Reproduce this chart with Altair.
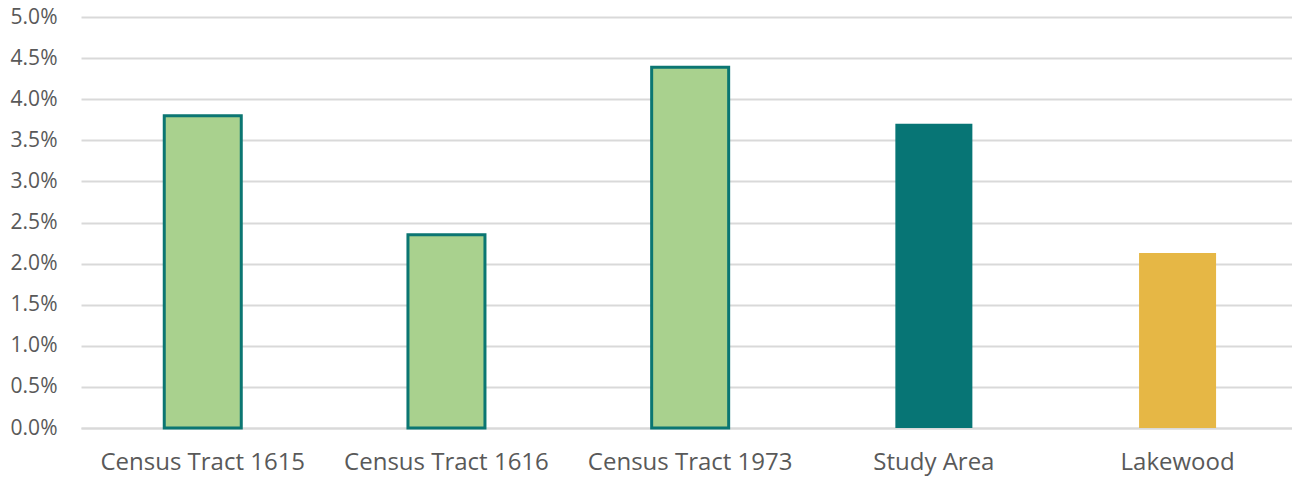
import altair as alt
import pandas as pd

categories = ["Census Tract 1615", "Census Tract 1616", "Census Tract 1973", "Study Area", "Lakewood"]
values = [0.0380, 0.0235, 0.0439, 0.0370, 0.0213]
fills = ["#A9D18E", "#A9D18E", "#A9D18E", "#077575", "#E6B745"]
strokes = ["#0B7672", "#0B7672", "#0B7672", "#077575", "#E6B745"]
stroke_widths = [3, 3, 3, 0, 0]

df = pd.DataFrame({
    "category": categories,
    "value": values,
    "fill": fills,
    "stroke": strokes,
    "sw": stroke_widths,
})

FONT = "Open Sans"

chart = alt.Chart(df).mark_bar().encode(
    x=alt.X("category:N", sort=categories, title=None,
            scale=alt.Scale(paddingInner=0.684, paddingOuter=0.3266, align=0.523),
            axis=alt.Axis(labelAngle=0, labelFont=FONT, labelFontSize=24,
                          labelColor="#595959", labelPadding=22, ticks=False,
                          labelLimit=400,
                          domain=True, domainColor="#D9D9D9", domainWidth=2)),
    y=alt.Y("value:Q", title=None,
            scale=alt.Scale(domain=[0, 0.05], nice=False),
            axis=alt.Axis(format=".1%", values=[i * 0.005 for i in range(11)],
                          labelFont=FONT, labelFontSize=21, labelColor="#595959",
                          labelPadding=24, ticks=False, domain=False,
                          grid=True, gridColor="#D9D9D9", gridWidth=2)),
    fill=alt.Fill("fill:N", scale=None),
    stroke=alt.Stroke("stroke:N", scale=None),
    strokeWidth=alt.StrokeWidth("sw:Q", scale=None),
).properties(
    width=1211,
    height=411,
    autosize=alt.AutoSizeParams(type="none"),
    padding={"left": 73, "top": 9, "right": 0, "bottom": 49},
).configure_view(stroke=None)

chart.save("out.html", embed_options={"renderer": "svg", "actions": False})
